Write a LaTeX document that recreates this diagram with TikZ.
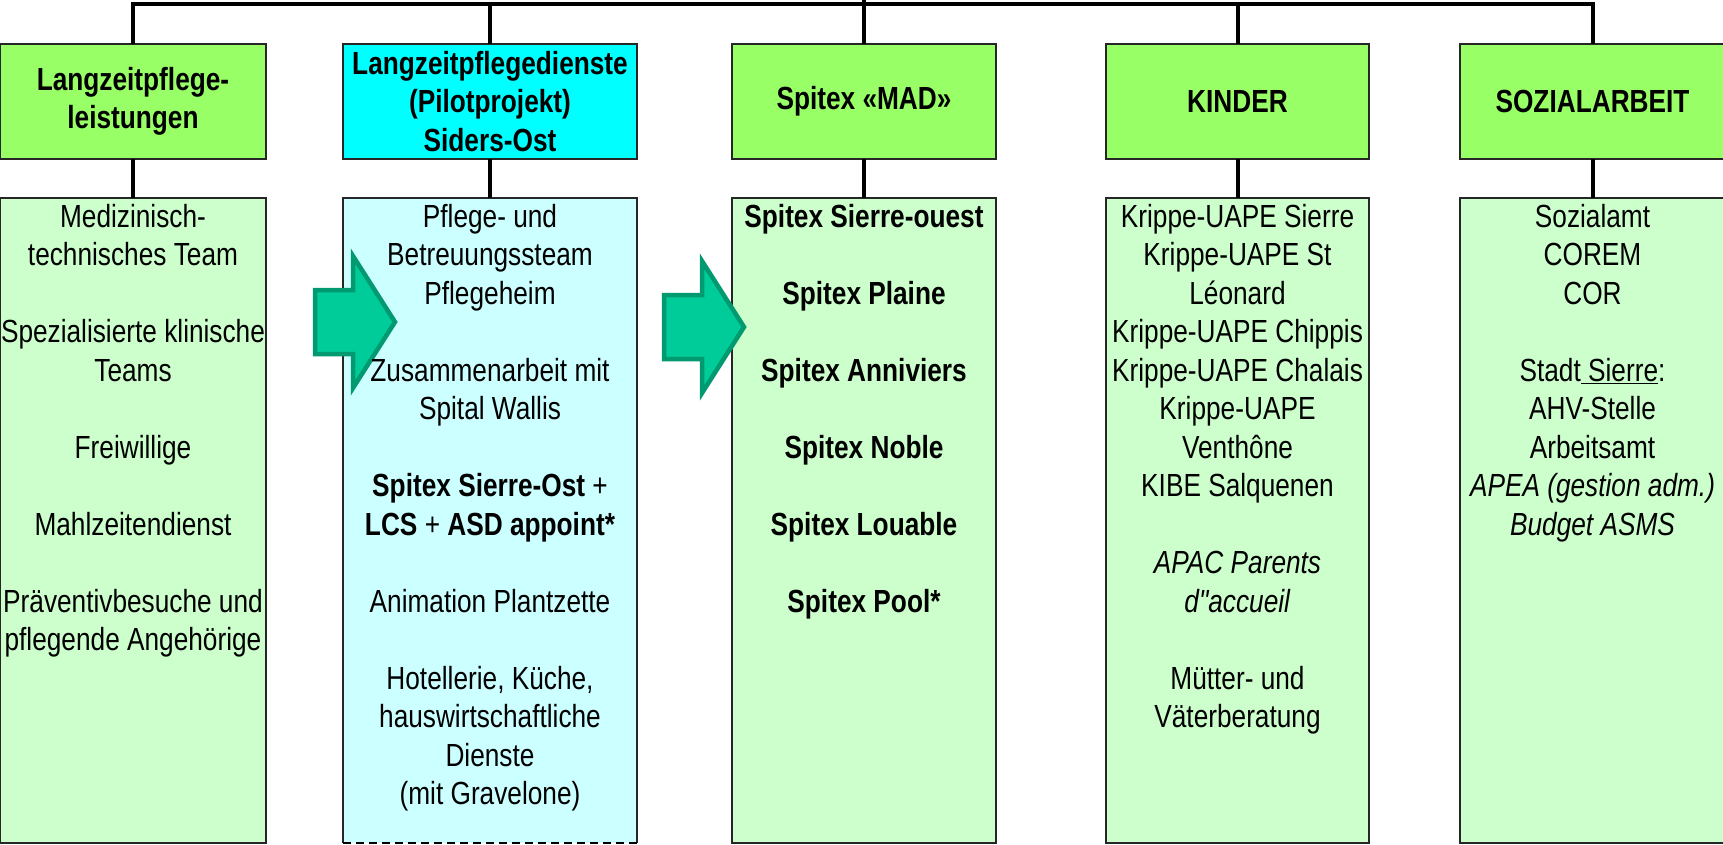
\documentclass[tikz,border=0pt]{standalone}
\usepackage{fontspec}
\setmainfont[FakeStretch=0.82]{Liberation Sans}

\definecolor{headgreen}{HTML}{99FF66}
\definecolor{headcyan}{HTML}{00FFFF}
\definecolor{boxgreen}{HTML}{CCFFCC}
\definecolor{boxcyan}{HTML}{CCFFFF}
\definecolor{arrowfill}{HTML}{00CC99}
\definecolor{arrowline}{HTML}{009970}

\newcommand{\blank}{\\[38.5pt]}

\begin{document}
\begin{tikzpicture}
        [x=1pt, y=-1pt,
         every node/.style={inner sep=0pt, outer sep=0pt, font=\fontsize{32}{38.5}\selectfont},
         head/.style={draw=black!85, line width=1.2pt, fill=headgreen, minimum height=115pt, align=center, font=\fontsize{32}{38.5}\selectfont\bfseries},
         lower/.style={draw=black!85, line width=1.2pt, fill=boxgreen, minimum height=645pt},
         entries/.style={anchor=north, align=center},
         wire/.style={line width=4pt, black},
         bigarrow/.style={draw=arrowline, fill=arrowfill, line width=4.5pt, line join=miter}]

        \useasboundingbox (0,0) rectangle (1723,844);

        \node[head, minimum width=266pt] (h1) at (133,101.5) {Langzeitpflege-\\leistungen};
        \node[head, fill=headcyan, minimum width=294pt] (h2) at (490,101.5) {Langzeitpflegedienste\\(Pilotprojekt)\\Siders-Ost};
        \node[head, minimum width=264pt] (h3) at (864,101.5) {Spitex «MAD»};
        \node[head, minimum width=263pt] (h4) at (1237.5,101.5) {KINDER};
        \node[head, minimum width=265pt] (h5) at (1592.5,101.5) {SOZIALARBEIT};

        \node[lower, minimum width=266pt] (b1) at (133,520.5) {};
        \node[lower, draw=none, fill=boxcyan, minimum width=294pt] (b2) at (490,520.5) {};
        \node[lower, minimum width=264pt] (b3) at (864,520.5) {};
        \node[lower, minimum width=263pt] (b4) at (1237.5,520.5) {};
        \node[lower, minimum width=265pt] (b5) at (1592.5,520.5) {};
        \draw[line width=1.2pt, black!85] (b2.south west) -- (b2.north west) -- (b2.north east) -- (b2.south east);
        \draw[line width=2pt, dash pattern=on 8pt off 5pt] (b2.south west) -- (b2.south east);

        \coordinate (root) at (864,-20);
        \coordinate (bus) at (864,4);

        \draw[wire] (h1.north) |- (bus) -| (h5.north);
        \draw[wire] (root) -- (h3.north);
        \draw[wire] (h2.north) -- (h2.north |- bus);
        \draw[wire] (h4.north) -- (h4.north |- bus);

        \draw[wire] (h1.south) -- (b1.north);
        \draw[wire] (h2.south) -- (b2.north);
        \draw[wire] (h3.south) -- (b3.north);
        \draw[wire] (h4.south) -- (b4.north);
        \draw[wire] (h5.south) -- (b5.north);

        \draw[bigarrow] (315,290) -- (353,290) -- (353,256) -- (395,322) -- (353,388) -- (353,354) -- (315,354) -- cycle;
        \draw[bigarrow] (664,295) -- (702,295) -- (702,261) -- (744,327) -- (702,393) -- (702,359) -- (664,359) -- cycle;

        \node[entries] (t1) at (133,204) {Medizinisch-\\technisches Team\blank Spezialisierte klinische\\Teams\blank Freiwillige\blank Mahlzeitendienst\blank Präventivbesuche und\\pflegende Angehörige};
        \node[entries] (t2) at (490,204) {Pflege- und\\Betreuungssteam\\Pflegeheim\blank Zusammenarbeit mit\\Spital Wallis\blank \textbf{Spitex Sierre-Ost} +\\\textbf{LCS} + \textbf{ASD appoint*}\blank Animation Plantzette\blank Hotellerie, Küche,\\hauswirtschaftliche\\Dienste\\(mit Gravelone)};
        \node[entries, font=\fontsize{32}{38.5}\selectfont\bfseries] (t3) at (864,204) {Spitex Sierre-ouest\blank Spitex Plaine\blank Spitex Anniviers\blank Spitex Noble\blank Spitex Louable\blank Spitex Pool*};
        \node[entries] (t4) at (1237.5,204) {Krippe-UAPE Sierre\\Krippe-UAPE St\\Léonard\\Krippe-UAPE Chippis\\Krippe-UAPE Chalais\\Krippe-UAPE\\Venthône\\KIBE Salquenen\blank \textit{APAC Parents}\\\textit{\addfontfeatures{Ligatures=TeXOff}d"accueil}\blank Mütter- und\\Väterberatung};
        \node[entries] (t5) at (1592.5,204) {Sozialamt\\COREM\\COR\blank Stadt\underline{ Sierre}:\\AHV-Stelle\\Arbeitsamt\\\textit{APEA (gestion adm.)}\\\textit{Budget ASMS}};

      \end{tikzpicture}
\end{document}
